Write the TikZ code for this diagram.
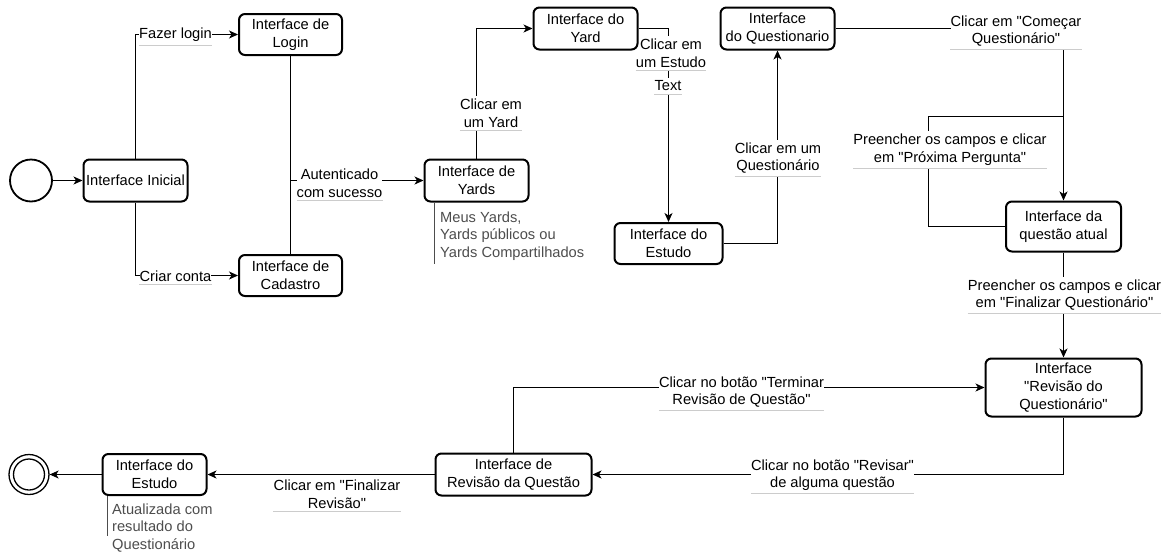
\documentclass[tikz,border=0pt]{standalone}
\usepackage{fontspec}
\setmainfont{Liberation Sans}[Ligatures=TeXOff]
\usetikzlibrary{arrows.meta,backgrounds}
\definecolor{ulgray}{HTML}{CCCCCC}
\definecolor{notegray}{HTML}{4D4D4D}

\begin{document}
\begin{tikzpicture}[x=1pt,y=-1pt,
  every node/.style={font=\fontsize{14.67}{17.6}\selectfont},
  state/.style={draw, line width=2pt, rounded corners=6pt, align=center, inner sep=0pt},
  wire/.style={line width=1.1pt},
  edge/.style={wire, -{Stealth[length=9pt,width=8pt,inset=2.5pt]}},
  lbl/.style={fill=white, align=center, inner xsep=0pt, inner ysep=3pt},
  uline/.style={draw=ulgray, line width=1pt},
  note/.style={align=left, text=notegray, anchor=north west, inner sep=0pt},
  noteline/.style={draw=notegray, line width=0.9pt}
]
\useasboundingbox (0,0) rectangle (1166,552);

% states
\node[draw, circle, line width=1.8pt, minimum size=42pt, inner sep=0pt] (start) at (31,180.5) {};
\node[state, minimum width=104pt, minimum height=42pt] (inicial) at (135.5,180.5) {Interface Inicial};
\node[state, minimum width=103pt, minimum height=41pt] (login) at (290.5,34.5) {Interface de\\Login};
\node[state, minimum width=103pt, minimum height=41pt] (cadastro) at (290.5,275.5) {Interface de\\Cadastro};
\node[state, minimum width=104pt, minimum height=42pt] (yards) at (476.5,180.5) {Interface de\\Yards};
\node[state, minimum width=104pt, minimum height=42pt] (yard) at (585.5,28.5) {Interface do\\Yard};
\node[state, minimum width=108pt, minimum height=41pt] (estudo) at (668.5,243.5) {Interface do\\Estudo};
\node[state, minimum width=114pt, minimum height=42pt] (quest) at (777.5,28.5) {Interface\\do Questionario};
\node[state, minimum width=115pt, minimum height=50pt] (atual) at (1063.5,226.5) {Interface da\\questão atual};
\node[state, minimum width=156pt, minimum height=58pt] (revq) at (1063.5,387.5) {Interface\\"Revisão do\\Questionário"};
\node[state, minimum width=156pt, minimum height=42pt] (revquestao) at (513.5,474.5) {Interface de\\Revisão da Questão};
\node[state, minimum width=104pt, minimum height=41pt] (estudo2) at (154.5,474.5) {Interface do\\Estudo};
\node[draw, circle, line width=1.3pt, minimum size=40pt, inner sep=0pt] (end) at (29,474.5) {};
\draw[line width=1.3pt] (end.center) circle[radius=15.5pt];

% notes attached to states
\node[note] (n1) at (440,211.5) {Meus Yards,\\Yards públicos ou\\Yards Compartilhados};
\draw[noteline] ([xshift=11pt]yards.south west) -- ++(0,61);
\node[note] (n2) at (112,503.5) {Atualizada com\\resultado do\\Questionário};
\draw[noteline] ([xshift=6pt]estudo2.south west) -- ++(0,40);

\begin{scope}[on background layer]
% transitions
\coordinate (auth) at (login.south |- yards.west);
\coordinate (loopc) at (928.5,116.5);
\coordinate (loopj) at (atual.north |- loopc);
\draw[edge] (start.east) -- (inicial.west);
\draw[edge] (inicial.north) |- (login.west);
\draw[edge] (inicial.south) |- (cadastro.west);
\draw[wire] (login.south) -- (auth);
\draw[wire] (cadastro.north) -- (auth);
\draw[edge] (auth) -- (yards.west);
\draw[edge] (yards.north) |- (yard.west);
\draw[edge] (yard.east) -| (estudo.north);
\draw[edge] (estudo.east) -| (quest.south);
\draw[edge] (quest.east) -| (atual.north);
\draw[wire] (atual.west) -| (loopc) -- (loopj);
\draw[edge] (atual.south) -- (revq.north);
\draw[edge] (revq.south) |- (revquestao.east);
\draw[edge] (revquestao.north) |- (revq.west);
\draw[edge] (revquestao.west) -- (estudo2.east);
\draw[edge] (estudo2.west) -- (end.east);

% transition labels
\node[lbl] (l1) at (175.5,35) {Fazer login};
\node[lbl] (l2) at (175.5,276) {Criar conta};
\node[lbl] (l3) at (339.5,183) {Autenticado\\com sucesso};
\node[lbl] (l4) at (491,113) {Clicar em\\um Yard};
\node[lbl] (l5) at (671,53) {Clicar em\\um Estudo};
\node[lbl] (l6) at (668,86) {Text};
\node[lbl] (l7) at (778,158) {Clicar em um\\Questionário};
\node[lbl] (l8) at (1016,31) {Clicar em "Começar\\Questionário"};
\node[lbl] (l9) at (950,150) {Preencher os campos e clicar\\em "Próxima Pergunta"};
\node[lbl] (l10) at (1064.5,295) {Preencher os campos e clicar\\em "Finalizar Questionário"};
\node[lbl] (l11) at (741.5,392) {Clicar no botão "Terminar\\Revisão de Questão"};
\node[lbl] (l12) at (832.5,475) {Clicar no botão "Revisar"\\de alguma questão};
\node[lbl, fill=none] (l13) at (337,494) {Clicar em "Finalizar\\Revisão"};
\foreach \n in {l1,l2,l3,l4,l5,l6,l7,l8,l9,l10,l11,l12,l13}
  \draw[uline] (\n.south west) -- (\n.south east);
\end{scope}
\end{tikzpicture}
\end{document}
